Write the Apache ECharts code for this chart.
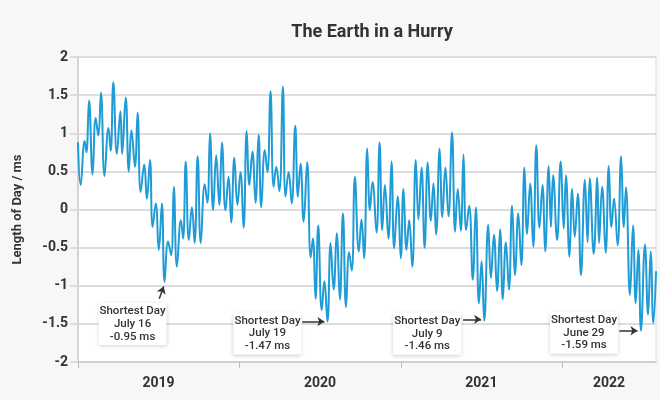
<!DOCTYPE html>
<html>
<head>
<meta charset="utf-8">
<script src="https://cdn.jsdelivr.net/npm/echarts@6/dist/echarts.min.js"></script>
<style>
html,body{margin:0;padding:0;background:#f7f7f7;}
#chart{width:660px;height:400px;}
</style>
</head>
<body>
<div id="chart"></div>
<script>
// ---- data ----
const startDate = '2019-01-01';
// days since startDate of the local peaks/troughs
const dayOffset = [0,6,15,19,25,33,40,46,52,60,69,74,80,88,96,100,108,115,121,129,135,142,150,156,163,169,176,183,190,196,
204,211,217,224,233,238,244,251,258,264,271,278,287,293,299,306,313,320,326,334,341,347,354,361,368,375,382,388,395,402,
409,415,423,429,436,443,449,456,464,470,477,484,492,498,504,511,519,527,532,538,544,552,558,565,572,579,586,593,600,607,
614,620,627,636,642,648,655,661,667,676,683,689,695,703,710,716,724,731,737,744,750,757,765,771,778,785,792,799,805,811,
819,825,832,839,847,854,860,867,873,879,886,894,901,908,914,920,929,935,942,949,956,962,969,976,983,990,997,1004,1011,1017,
1024,1031,1038,1045,1052,1058,1066,1071,1076,1085,1093,1100,1105,1113,1119,1125,1132,1139,1148,1154,1159,1168,1176,1180,1187,1195,
1202,1208,1214,1222,1230,1236,1241,1250,1257,1263,1269,1275,1284,1291,1297,1303,1309];
// length of day minus 86400 s, in ms
const lod = [0.88,0.32,0.90,0.75,1.43,0.46,1.20,0.97,1.53,0.44,1.07,0.77,1.67,0.73,1.29,0.73,1.47,0.50,1.04,0.56,1.27,0.23,0.59,0.14,0.65,-0.23,0.08,-0.53,0.08,-0.95,
-0.42,-0.60,0.30,-0.75,-0.14,-0.38,0.63,-0.40,0.03,-0.44,0.70,-0.44,0.33,0.09,1.00,-0.01,0.71,0.06,0.88,-0.01,0.43,-0.17,0.68,0.06,0.49,-0.24,1.03,0.32,0.76,0.09,
0.98,0.03,0.78,0.49,1.55,0.30,0.56,0.24,1.61,0.17,0.49,0.08,1.10,0.17,0.60,-0.16,0.62,-0.63,-0.38,-1.17,-0.21,-1.32,-0.94,-1.47,-0.44,-1.05,-0.31,-1.18,-0.05,-1.28,
-0.56,-0.80,0.43,-0.55,-0.13,-0.64,0.80,-0.01,0.36,-0.30,0.88,-0.27,0.32,-0.38,0.63,-0.51,0.17,-0.64,0.27,-0.53,-0.14,-0.75,0.65,-0.13,0.55,-0.50,0.62,-0.15,0.34,-0.33,
0.80,-0.10,0.55,-0.09,1.01,-0.29,0.27,-0.28,0.72,-0.27,0.05,-0.92,0.03,-1.23,-0.68,-1.46,-0.20,-0.90,-0.33,-1.07,-0.26,-1.18,-0.43,-1.05,0.05,-0.86,-0.05,-0.73,0.55,-0.32,
0.34,-0.49,0.84,-0.24,0.32,-0.55,0.57,-0.23,0.45,-0.40,0.63,-0.25,0.45,-0.62,0.27,-0.36,0.21,-0.86,0.39,-0.43,0.41,-0.58,0.42,-0.44,0.30,-0.57,
0.57,-0.23,0.14,-0.47,0.70,-0.23,0.29,-1.12,-0.21,-1.23,-0.53,-1.59,-0.46,-1.38,-0.55,-1.49,-0.81];
const yearStarts = ['2019-01-01','2020-01-01','2021-01-01','2022-01-01'];
const yearLabels = ['2019','2020','2021','2022'];
const yTicks = [-2,-1.5,-1,-0.5,0,0.5,1,1.5,2];
const shortestDates = ['2019-07-16','2020-07-19','2021-07-09','2022-06-29'];
const shortestNames = ['July 16','July 19','July 9','June 29'];
const shortestValues = [-0.95,-1.47,-1.46,-1.59];

// ---- helpers: x axis is measured in days since startDate ----
const DAY = 86400000;
const t0 = Date.parse(startDate + 'T00:00:00Z');
const dayOf = s => Math.round((Date.parse(s + 'T00:00:00Z') - t0) / DAY);
const seriesData = dayOffset.map((d, i) => [d, lod[i]]);
const xMin = 0;
const xMax = dayOffset[dayOffset.length - 1];
const tickVals = yearStarts.map(dayOf);
const labelVals = tickVals.map((v, i) => (v + Math.min(i + 1 < tickVals.length ? tickVals[i + 1] : xMax, xMax)) / 2);
const yearForDay = v => {
  let k = 0;
  tickVals.forEach((t, i) => { if (v >= t) k = i; });
  return yearLabels[k];
};

// annotation layout (pixel box offsets, arrow offsets in days / ms)
const annoLayout = [
  {box: [-32, 42], from: [-12, -0.22], to: [-2, -0.06]},
  {box: [-60, 12], from: [-57, 0], to: [-7, 0]},
  {box: [-57, 13], from: [-48, 0.02], to: [-7, 0.02]},
  {box: [-57, 2], from: [-49, 0], to: [-8, 0]}
];

const markPoints = shortestDates.map((d, i) => ({
  coord: [dayOf(d), shortestValues[i]],
  symbol: 'rect',
  symbolSize: [68, 42],
  symbolOffset: annoLayout[i].box,
  itemStyle: {color: '#ffffff', shadowBlur: 4, shadowColor: 'rgba(0,0,0,0.18)', shadowOffsetY: 1},
  label: {
    show: true, position: 'inside',
    formatter: 'Shortest Day\n' + shortestNames[i] + '\n' + shortestValues[i].toFixed(2) + ' ms',
    color: '#333', fontFamily: 'Roboto', fontSize: 11.5, fontWeight: 500, lineHeight: 12.7, align: 'center'
  }
}));
const markLines = shortestDates.map((d, i) => [
  {coord: [dayOf(d) + annoLayout[i].from[0], shortestValues[i] + annoLayout[i].from[1]], symbol: 'none'},
  {coord: [dayOf(d) + annoLayout[i].to[0], shortestValues[i] + annoLayout[i].to[1]], symbol: 'arrow'}
]);

const chart = echarts.init(document.getElementById('chart'));
chart.setOption({
  animation: false,
  backgroundColor: '#f7f7f7',
  textStyle: {fontFamily: 'Roboto'},
  title: {
    text: 'The Earth in a Hurry',
    left: 367, top: 18, textAlign: 'center',
    textStyle: {fontFamily: 'Roboto', fontSize: 18, fontWeight: 'bold', color: '#333'}
  },
  grid: {left: 78, right: 4, top: 57, bottom: 38, show: true, backgroundColor: '#ffffff', borderColor: '#dcdcdc', borderWidth: 1},
  xAxis: {
    type: 'value', min: xMin, max: xMax,
    axisLine: {show: true, onZero: false, lineStyle: {color: '#cccccc', width: 1.5}},
    axisTick: {show: true, customValues: tickVals, length: 6, lineStyle: {color: '#bbbbbb', width: 1}},
    axisLabel: {
      customValues: labelVals, margin: 14,
      formatter: v => yearForDay(v),
      color: '#333', fontFamily: 'Roboto', fontSize: 14, fontWeight: 'bold'
    },
    splitLine: {show: false}
  },
  yAxis: {
    type: 'value', min: yTicks[0], max: yTicks[yTicks.length - 1], interval: 0.5,
    name: 'Length of Day / ms', nameLocation: 'middle', nameGap: 54, nameRotate: 90,
    nameTextStyle: {fontFamily: 'Roboto', fontSize: 13, fontWeight: 'bold', color: '#333'},
    axisLine: {show: true, lineStyle: {color: '#cccccc', width: 1.5}},
    axisTick: {show: true, length: 8, lineStyle: {color: '#dddddd', width: 2}},
    axisLabel: {color: '#333', fontFamily: 'Roboto', fontSize: 14, fontWeight: 'bold', margin: 10},
    splitLine: {show: true, lineStyle: {color: '#dddddd', width: 2}}
  },
  series: [{
    type: 'line',
    data: seriesData,
    showSymbol: false,
    smooth: 0.45,
    lineStyle: {color: '#1f9bd6', width: 2},
    itemStyle: {color: '#1f9bd6'},
    silent: true,
    markPoint: {silent: true, data: markPoints},
    markLine: {
      silent: true, symbolSize: 7,
      lineStyle: {color: '#333', width: 1.5, type: 'solid'},
      label: {show: false},
      data: markLines
    }
  }]
});
</script>
</body>
</html>
